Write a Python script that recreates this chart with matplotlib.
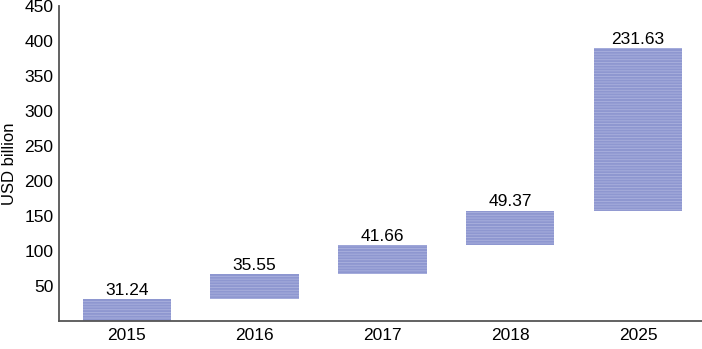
import matplotlib.pyplot as plt
import numpy as np

plt.rcParams['font.family'] = ['Liberation Sans', 'DejaVu Sans']
plt.rcParams['hatch.linewidth'] = 0.6

years = ['2015', '2016', '2017', '2018', '2025']
values = [31.24, 35.55, 41.66, 49.37, 231.63]
yticks = [50, 100, 150, 200, 250, 300, 350, 400, 450]

bottoms = np.concatenate([[0], np.cumsum(values)[:-1]])
x = np.arange(len(years))

fig = plt.figure(figsize=(7.02, 3.49), dpi=100)
ax = fig.add_axes([0.084, 0.08, 0.916, 0.903])

bars = ax.bar(x, values, bottom=bottoms, width=0.69, color='#8e97d0',
              edgecolor='#abb2de', linewidth=0, hatch='------')

for xi, b, v in zip(x, bottoms, values):
    ax.text(xi, b + v + 2, f'{v:.2f}', ha='center', va='bottom', fontsize=12.5)

ax.set_xlim(-0.53, 4.5)
ax.set_ylim(0, 450)
ax.set_xticks(x)
ax.set_xticklabels(years, fontsize=12.5)
ax.set_yticks(yticks)
ax.tick_params(axis='y', labelsize=12.5, length=0, pad=4)
ax.tick_params(axis='x', length=0, pad=5)
ax.set_ylabel('USD billion', fontsize=12)
ax.yaxis.set_label_coords(-0.066, 0.5)

for s in ['top', 'right']:
    ax.spines[s].set_visible(False)
for s in ['left', 'bottom']:
    ax.spines[s].set_color('#555555')
    ax.spines[s].set_linewidth(1.3)

fig.savefig('out.png', dpi=100)
